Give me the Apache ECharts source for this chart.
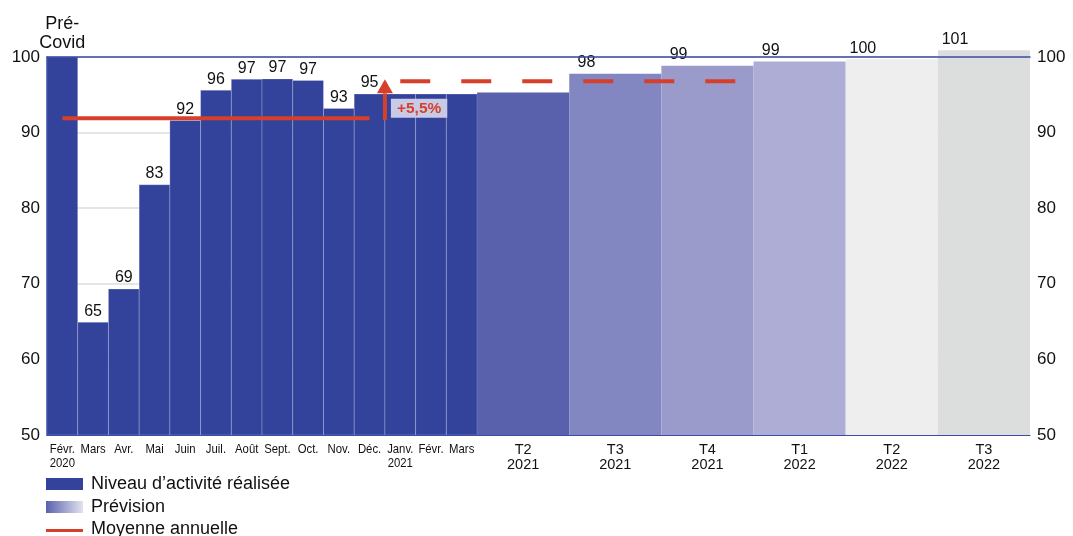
<!DOCTYPE html>
<html><head><meta charset="utf-8">
<script src="https://cdn.jsdelivr.net/npm/echarts@6/dist/echarts.min.js"></script>
<style>html,body{margin:0;padding:0;background:#fff}#c{width:1073px;height:536px}</style>
</head><body><div id="c"></div>
<script>
// ---- data ----
const monthLabels = ['Févr.\n2020','Mars','Avr.','Mai','Juin','Juil.','Août','Sept.','Oct.','Nov.','Déc.','Janv.\n2021','Févr.','Mars'];
const monthValues = [100, 64.9, 69.3, 83.1, 91.6, 95.6, 97.05, 97.1, 96.9, 93.2, 95.1, 95.1, 95.1, 95.1];
const quarterLabels = ['T2\n2021','T3\n2021','T4\n2021','T1\n2022','T2\n2022','T3\n2022'];
const quarterValues = [95.3, 97.8, 98.85, 99.4, 99.7, 100.9];
const valueLabels = ['Pré-\nCovid','65','69','83','92','96','97','97','97','93','95','','','','','98','99','99','100','101'];
const avg2020 = {from: 0.5, to: 10.5, value: 91.9};
const avg2021 = {from: 11.5, to: 22.5, value: 96.8};
const growth = {at: 11, from: 91.9, to: 97.05, label: '+5,5%'};
const yTicks = [50, 60, 70, 80, 90, 100];
const legendLabels = ['Niveau d\u2019activité réalisée', 'Prévision', 'Moyenne annuelle'];

// ---- styles ----
const realColor = '#33429b';
const forecastColors = ['#5961ad', '#8387c1', '#9a9bcb', '#adadd5', '#eeeeee', '#dcdedd'];
const red = '#d6402b';
const borderColor = '#3a4ba8';
const FONT = '"Liberation Sans", Arial, Helvetica, sans-serif';

const nMonths = monthValues.length;
const totalUnits = nMonths + quarterValues.length * 3;

const barData = [];
monthValues.forEach((v, i) => barData.push([i, i + 1, v]));
quarterValues.forEach((v, q) => barData.push([nMonths + q * 3, nMonths + q * 3 + 3, v]));
const barColors = monthValues.map(() => realColor).concat(forecastColors);

// quarter labels on the axis (monthly ones are drawn condensed under each month bar)
function xLabel(v) {
  const m = v - 0.5;
  if (Math.abs(m - Math.round(m)) > 1e-6) return '';
  const r = Math.round(m) - nMonths - 1;
  if (r >= 0 && r % 3 === 0 && r / 3 < quarterLabels.length)
    return quarterLabels[r / 3].split('\n').map(s => '{q|' + s + '}').join('\n');
  return '';
}

function renderBar(params, api) {
  const s = api.value(0), e = api.value(1), v = api.value(2);
  const tl = api.coord([s, v]);
  const br = api.coord([e, 50]);
  const unit = api.size([1, 0])[0];
  const idx = params.dataIndex;
  const isMonth = idx < nMonths;
  const cx = (tl[0] + br[0]) / 2;
  const children = [{
    type: 'rect',
    shape: {x: tl[0], y: tl[1], width: br[0] - tl[0], height: br[1] - tl[1]},
    style: {fill: barColors[idx], stroke: isMonth ? 'rgba(255,255,255,0.22)' : null, lineWidth: 1}
  }];
  const lab = valueLabels[idx];
  if (lab) {
    const multi = lab.indexOf('\n') >= 0;
    children.push({
      type: 'text',
      x: isMonth ? cx : tl[0] + unit * 0.56,
      y: tl[1] - (multi ? 4 : 3),
      style: {
        text: lab, align: 'center', verticalAlign: 'bottom',
        font: (multi ? 18 : 16) + 'px ' + FONT, lineHeight: multi ? 19 : 16, fill: '#111'
      }
    });
  }
  if (isMonth) {
    children.push({
      type: 'text', x: cx, y: br[1] + 7, scaleX: 0.84,
      style: {
        text: monthLabels[idx], align: 'center', verticalAlign: 'top',
        font: '13.5px ' + FONT, lineHeight: 14, fill: '#111'
      }
    });
  }
  return {type: 'group', children};
}

function renderArrow(params, api) {
  const x = api.value(0);
  const p0 = api.coord([x, api.value(1)]);
  const p1 = api.coord([x, api.value(2)]);
  const headLen = 14, headHalf = 8;
  return {type: 'group', children: [
    {type: 'line', shape: {x1: p0[0], y1: p0[1] + 2, x2: p1[0], y2: p1[1] + headLen}, style: {stroke: red, lineWidth: 4}},
    {type: 'polygon', shape: {points: [[p1[0], p1[1]], [p1[0] - headHalf, p1[1] + headLen], [p1[0] + headHalf, p1[1] + headLen]]}, style: {fill: red}},
    {type: 'text', x: p0[0] + 6, y: p0[1] - 0.5, style: {
      text: growth.label, font: 'bold 15.5px ' + FONT, fill: red, backgroundColor: '#c8cae6',
      padding: [2, 6, 1, 6], align: 'left', verticalAlign: 'bottom'
    }}
  ]};
}

const chart = echarts.init(document.getElementById('c'), null, {renderer: 'canvas'});
chart.setOption({
  animation: false,
  backgroundColor: '#fff',
  grid: {left: 47, right: 43, top: 57, bottom: 101},
  xAxis: [{
    type: 'value', min: 0, max: totalUnits, interval: 0.5, position: 'bottom', z: 10,
    axisLine: {show: true, lineStyle: {color: borderColor, width: 1.2}},
    axisTick: {show: false}, splitLine: {show: false},
    axisLabel: {
      show: true, margin: 7, formatter: xLabel,
      rich: {q: {fontFamily: FONT, fontSize: 14.5, lineHeight: 15, color: '#111'}}
    }
  }, {
    type: 'value', min: 0, max: totalUnits, position: 'top', z: 10,
    axisLine: {show: true, lineStyle: {color: borderColor, width: 1.5}},
    axisTick: {show: false}, splitLine: {show: false}, axisLabel: {show: false}
  }],
  yAxis: [{
    type: 'value', min: yTicks[0], max: yTicks[yTicks.length - 1], interval: 10, position: 'left',
    axisLine: {show: false}, axisTick: {show: false},
    splitLine: {show: true, lineStyle: {color: '#dcdcdc', width: 1.5}},
    axisLabel: {margin: 7, color: '#111', fontFamily: FONT, fontSize: 17}
  }, {
    type: 'value', min: yTicks[0], max: yTicks[yTicks.length - 1], interval: 10, position: 'right', z: 10,
    axisLine: {show: true, lineStyle: {color: borderColor, width: 1.5}}, axisTick: {show: false},
    splitLine: {show: false},
    axisLabel: {margin: 7, color: '#111', fontFamily: FONT, fontSize: 17}
  }],
  series: [{
    type: 'custom', name: legendLabels[0], renderItem: renderBar, data: barData,
    encode: {x: [0, 1], y: 2}, clip: false, z: 2
  }, {
    type: 'line', name: legendLabels[2], data: [[avg2020.from, avg2020.value], [avg2020.to, avg2020.value]],
    symbol: 'none', lineStyle: {color: red, width: 4}, z: 5
  }, {
    type: 'line', name: 'dash', data: [[avg2021.from, avg2021.value], [avg2021.to, avg2021.value]],
    symbol: 'none', lineStyle: {color: red, width: 4, type: [30, 31]}, z: 5
  }, {
    type: 'custom', name: 'arrow', renderItem: renderArrow, data: [[growth.at, growth.from, growth.to]],
    encode: {x: 0, y: [1, 2]}, clip: false, z: 6
  }],
  graphic: [
    {type: 'rect', x: 46, y: 478, shape: {width: 37, height: 12}, style: {fill: realColor}},
    {type: 'text', x: 91, y: 484, style: {text: legendLabels[0], font: '18px ' + FONT, fill: '#111', verticalAlign: 'middle'}},
    {type: 'rect', x: 46, y: 501, shape: {width: 37, height: 12}, style: {fill: {type: 'linear', x: 0, y: 0, x2: 1, y2: 0, colorStops: [{offset: 0, color: '#5961ad'}, {offset: 1, color: '#e2e2ef'}]}}},
    {type: 'text', x: 91, y: 507, style: {text: legendLabels[1], font: '18px ' + FONT, fill: '#111', verticalAlign: 'middle'}},
    {type: 'rect', x: 46, y: 529, shape: {width: 37, height: 3}, style: {fill: red}},
    {type: 'text', x: 91, y: 529, style: {text: legendLabels[2], font: '18px ' + FONT, fill: '#111', verticalAlign: 'middle'}}
  ]
});
</script>
</body></html>
